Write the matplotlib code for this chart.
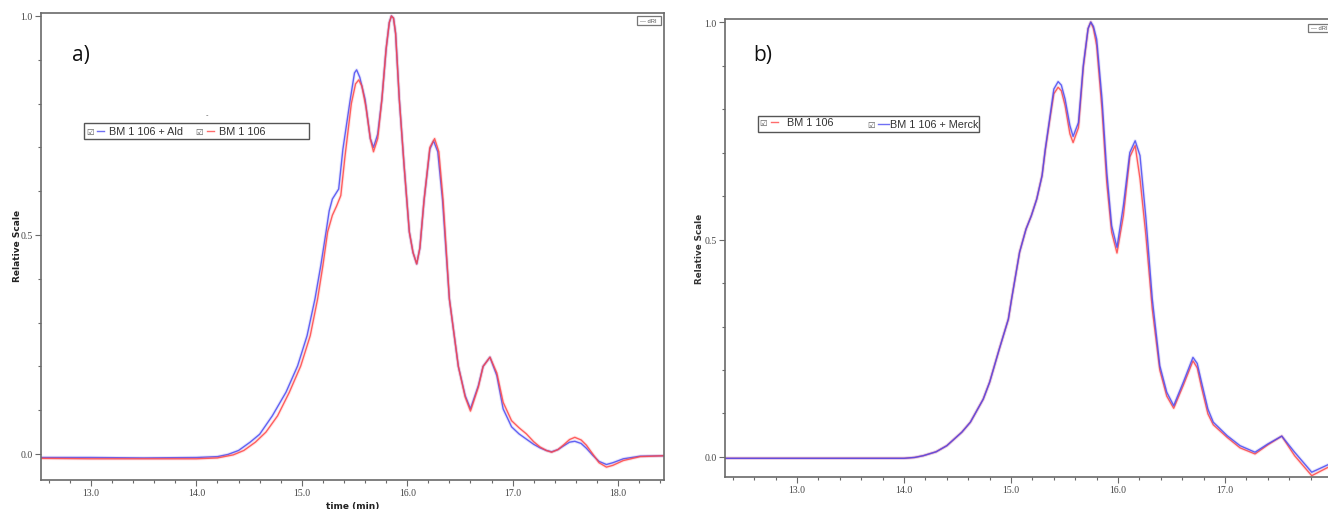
import matplotlib
matplotlib.use("Agg")
import matplotlib.pyplot as plt
from matplotlib.patches import Rectangle
from matplotlib.lines import Line2D
from matplotlib.ticker import MultipleLocator, FormatStrFormatter

W, H = 1328, 510

# --- panel a) : BM 1 106 + Ald (blue) vs BM 1 106 (red)
a_ald_t = [12.53, 13.0, 13.5, 14.0, 14.2, 14.3, 14.4, 14.51, 14.6, 14.72, 14.85, 14.96,
           15.05, 15.125, 15.18, 15.23, 15.26, 15.29, 15.35, 15.39, 15.46, 15.50, 15.52,
           15.55, 15.60, 15.65, 15.68, 15.72, 15.76, 15.80, 15.83, 15.85, 15.87, 15.89,
           15.925, 15.97, 16.02, 16.055, 16.09, 16.12, 16.16, 16.215, 16.25, 16.29,
           16.335, 16.40, 16.485, 16.55, 16.60, 16.675, 16.72, 16.785, 16.85, 16.91,
           16.99, 17.06, 17.13, 17.2, 17.26, 17.32, 17.37, 17.43, 17.48, 17.54, 17.59,
           17.65, 17.70, 17.76, 17.82, 17.89, 17.95, 18.05, 18.21, 18.44]
a_ald_y = [-0.008, -0.008, -0.009, -0.008, -0.006, -0.001, 0.008, 0.027, 0.045, 0.087, 0.141, 0.201,
           0.27, 0.354, 0.43, 0.507, 0.555, 0.582, 0.605, 0.696, 0.81, 0.87, 0.877,
           0.86, 0.81, 0.72, 0.70, 0.73, 0.81, 0.925, 0.985, 1.0, 0.995, 0.96,
           0.81, 0.66, 0.507, 0.46, 0.434, 0.47, 0.58, 0.696, 0.715, 0.69,
           0.58, 0.354, 0.20, 0.133, 0.103, 0.156, 0.20, 0.221, 0.179, 0.103,
           0.062, 0.046, 0.034, 0.022, 0.014, 0.008, 0.005, 0.010, 0.018, 0.027, 0.029,
           0.024, 0.013, -0.003, -0.017, -0.024, -0.020, -0.011, -0.005, -0.004]

a_ref_t = [12.53, 13.0, 13.5, 14.0, 14.2, 14.35, 14.45, 14.56, 14.66, 14.77, 14.88, 14.99,
           15.08, 15.15, 15.20, 15.245, 15.29, 15.33, 15.37, 15.41, 15.47, 15.51, 15.54,
           15.57, 15.61, 15.65, 15.68, 15.72, 15.76, 15.80, 15.83, 15.85, 15.87, 15.89,
           15.925, 15.97, 16.02, 16.055, 16.09, 16.12, 16.16, 16.215, 16.26, 16.30,
           16.34, 16.40, 16.485, 16.55, 16.60, 16.675, 16.72, 16.785, 16.85, 16.91,
           16.99, 17.06, 17.13, 17.2, 17.26, 17.32, 17.37, 17.43, 17.48, 17.54, 17.59,
           17.65, 17.70, 17.76, 17.82, 17.89, 17.95, 18.05, 18.21, 18.44]
a_ref_y = [-0.010, -0.011, -0.011, -0.011, -0.009, -0.002, 0.008, 0.027, 0.05, 0.087, 0.14, 0.201,
           0.27, 0.354, 0.43, 0.507, 0.545, 0.566, 0.59, 0.68, 0.80, 0.845, 0.854,
           0.84, 0.79, 0.72, 0.69, 0.72, 0.81, 0.925, 0.985, 1.0, 0.995, 0.96,
           0.81, 0.66, 0.507, 0.46, 0.434, 0.47, 0.58, 0.70, 0.72, 0.69,
           0.58, 0.354, 0.20, 0.13, 0.098, 0.153, 0.20, 0.221, 0.185, 0.118,
           0.076, 0.06, 0.046, 0.028, 0.016, 0.008, 0.004, 0.010, 0.020, 0.033, 0.038,
           0.032, 0.020, 0.0, -0.020, -0.030, -0.026, -0.015, -0.006, -0.004]

# --- panel b) : BM 1 106 (red) vs BM 1 106 + Merck (blue)
b_t = [12.33, 13.0, 13.5, 14.0, 14.1, 14.18, 14.3, 14.40, 14.54, 14.62, 14.74, 14.80,
       14.89, 14.975, 15.005, 15.08, 15.14, 15.19, 15.24, 15.29, 15.32, 15.365, 15.40,
       15.44, 15.47, 15.505, 15.55, 15.58, 15.63, 15.675, 15.72, 15.745, 15.77, 15.80,
       15.85, 15.895, 15.94, 15.99, 16.05, 16.11, 16.16, 16.205, 16.26, 16.32, 16.39,
       16.455, 16.52, 16.61, 16.70, 16.74, 16.78, 16.84, 16.89, 17.02, 17.14, 17.28,
       17.40, 17.53, 17.65, 17.81, 17.96, 18.05]
b_merck_y = [-0.003, -0.003, -0.003, -0.003, -0.001, 0.003, 0.012, 0.026, 0.057, 0.080, 0.133, 0.172,
             0.248, 0.317, 0.363, 0.471, 0.524, 0.555, 0.593, 0.647, 0.708, 0.785, 0.846,
             0.863, 0.855, 0.823, 0.762, 0.737, 0.769, 0.90, 0.985, 1.0, 0.99, 0.961,
             0.823, 0.654, 0.532, 0.482, 0.578, 0.70, 0.727, 0.693, 0.55, 0.363, 0.21,
             0.149, 0.118, 0.172, 0.229, 0.215, 0.172, 0.11, 0.080, 0.049, 0.026, 0.011,
             0.030, 0.048, 0.011, -0.035, -0.018, -0.012]
b_ref_y = [-0.003, -0.003, -0.003, -0.003, -0.001, 0.003, 0.012, 0.026, 0.057, 0.080, 0.133, 0.172,
           0.248, 0.317, 0.363, 0.471, 0.524, 0.555, 0.593, 0.647, 0.705, 0.78, 0.835,
           0.85, 0.842, 0.808, 0.743, 0.723, 0.757, 0.895, 0.985, 1.0, 0.985, 0.946,
           0.80, 0.63, 0.517, 0.469, 0.555, 0.69, 0.716, 0.64, 0.51, 0.34, 0.20,
           0.14, 0.112, 0.165, 0.221, 0.205, 0.16, 0.099, 0.074, 0.045, 0.021, 0.007,
           0.028, 0.048, 0.003, -0.043, -0.024, -0.017]

BLUE = "#4b4bf2"
RED = "#ff4747"
SPINE = "#6a6a6a"


def px(x, y):
    # pixel position -> figure fraction
    return x / W, 1 - y / H


def trace(ax, t, y, color):
    ax.plot(t, y, color=color, lw=2.4, alpha=0.14, solid_joinstyle="round")
    ax.plot(t, y, color=color, lw=1.0, alpha=0.85, solid_joinstyle="round")


def style_axes(ax, xlim, ylim):
    ax.set_xlim(*xlim)
    ax.set_ylim(*ylim)
    ax.xaxis.set_major_locator(MultipleLocator(1.0))
    ax.xaxis.set_minor_locator(MultipleLocator(0.2))
    ax.yaxis.set_major_locator(MultipleLocator(0.5))
    ax.yaxis.set_minor_locator(MultipleLocator(0.1))
    ax.xaxis.set_major_formatter(FormatStrFormatter("%.1f"))
    ax.yaxis.set_major_formatter(FormatStrFormatter("%.1f"))
    ax.tick_params(which="both", direction="out", colors=SPINE, width=0.8,
                   labelsize=7, labelcolor="#444444", pad=2)
    ax.tick_params(which="major", length=4)
    ax.tick_params(which="minor", length=2.5)
    for lab in ax.get_xticklabels() + ax.get_yticklabels():
        lab.set_family("Liberation Serif")
    for s in ax.spines.values():
        s.set_color(SPINE)
        s.set_linewidth(1.2)


def legend_box(fig, x0, y0, x1, y1, items):
    fx, fy = px(x0, y1)
    fw, fh = (x1 - x0) / W, (y1 - y0) / H
    fig.add_artist(Rectangle((fx, fy), fw, fh, transform=fig.transFigure,
                             fill=False, ec="#555555", lw=1.0))
    for cx, lx0, lx1, tx, ty, label, color in items:
        fig.text(*px(cx, ty), "\u2611", fontsize=6, color="#555555",
                 family="DejaVu Sans", ha="center", va="center")
        fig.add_artist(Line2D([lx0 / W, lx1 / W], [1 - ty / H, 1 - ty / H],
                              transform=fig.transFigure, color=color, lw=1.0, alpha=0.8))
        fig.text(*px(tx, ty), label, fontsize=7.8, color="#333333",
                 family="Liberation Sans", ha="left", va="center")


def dri_box(fig, x0, y0, x1, y1):
    fx, fy = px(x0, y1)
    fig.add_artist(Rectangle((fx, fy), (x1 - x0) / W, (y1 - y0) / H,
                             transform=fig.transFigure, fill=False, ec="#777777", lw=0.9))
    fig.text(*px(x0 + 3, (y0 + y1) / 2), "\u2014 dRI", fontsize=4.2, color="#555555",
             family="Liberation Sans", ha="left", va="center")


fig = plt.figure(figsize=(W / 100, H / 100), dpi=100)
fig.patch.set_facecolor("white")

# panel a
ax1 = fig.add_axes([41 / W, 29 / H, 623 / W, 467 / H])
trace(ax1, a_ald_t, a_ald_y, BLUE)
trace(ax1, a_ref_t, a_ref_y, RED)
style_axes(ax1, (12.526, 18.436), (-0.0594, 1.0068))
ax1.set_xlabel("time (min)", fontsize=6.5, fontweight="bold", color="#222222", labelpad=3)

# panel b (its right spine sits just past the figure edge)
ax2 = fig.add_axes([725 / W, 32 / H, 606 / W, 458 / H])
trace(ax2, b_t, b_ref_y, RED)
trace(ax2, b_t, b_merck_y, BLUE)
style_axes(ax2, (12.327, 17.99), (-0.046, 1.007))

fig.text(*px(17, 246), "Relative Scale", rotation=90, fontsize=6.5, fontweight="bold",
         color="#222222", ha="center", va="center")
fig.text(*px(700, 249), "Relative Scale", rotation=90, fontsize=6.3, fontweight="bold",
         color="#333333", ha="center", va="center")

fig.text(*px(72, 56), "a)", fontsize=15, family="Open Sans", color="#111111",
         ha="left", va="center")
fig.text(*px(753, 56), "b)", fontsize=15, family="Open Sans", color="#111111",
         ha="left", va="center")
fig.text(*px(207, 115), "-", fontsize=5, color="#555555", ha="center", va="center")

legend_box(fig, 84, 124, 309, 140, [
    (90, 97, 104, 109, 132, "BM 1 106 + Ald", BLUE),
    (199, 207, 214, 219, 132, "BM 1 106", RED),
])
legend_box(fig, 758, 117, 979, 133, [
    (763, 771, 778, 787, 123, "BM 1 106", RED),
    (871, 878, 889, 890, 125, "BM 1 106 + Merck", BLUE),
])
dri_box(fig, 637, 17, 661, 26)
dri_box(fig, 1308, 25, 1336, 33)

fig.savefig("out.png", dpi=100, facecolor="white")
plt.close(fig)
